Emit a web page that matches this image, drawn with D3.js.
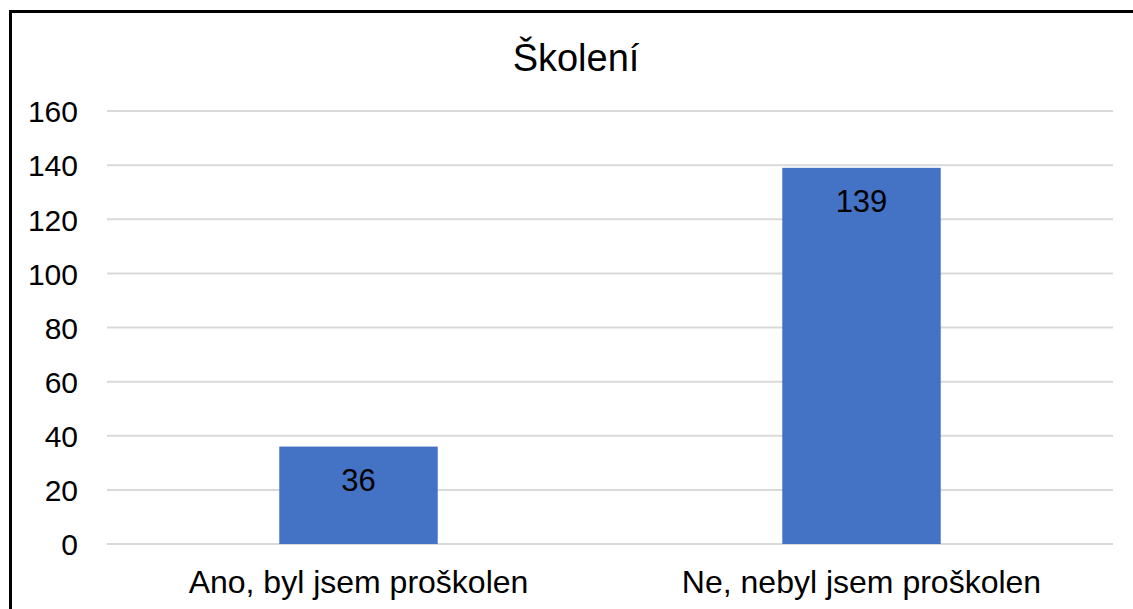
<!DOCTYPE html>
<html>
<head>
<meta charset="utf-8">
<script src="https://cdn.jsdelivr.net/npm/d3@7"></script>
<style>
  body { margin: 0; background: #fff; }
  svg { display: block; font-family: "Liberation Sans", Arial, sans-serif; }
</style>
</head>
<body>
<svg id="chart"></svg>
<script>
var categories = ["Ano, byl jsem proškolen", "Ne, nebyl jsem proškolen"];
var values = [36, 139];
var yTicks = [0, 20, 40, 60, 80, 100, 120, 140, 160];
var title = "Školení";

var width = 1133, height = 609;
var margins = { left: 107, right: 20, top: 111, bottom: 65 };

var svg = d3.select("#chart")
    .attr("width", width)
    .attr("height", height);

// outer frame (cut off at right and bottom)
svg.append("rect")
    .attr("x", 10.5)
    .attr("y", 11.5)
    .attr("width", width + 20)
    .attr("height", height + 20)
    .attr("fill", "none")
    .attr("stroke", "#000")
    .attr("stroke-width", 3);

var xScale = d3.scaleBand()
    .domain(categories)
    .range([margins.left, width - margins.right])
    .padding(0);
var yScale = d3.scaleLinear()
    .domain([0, 160])
    .range([height - margins.bottom, margins.top]);

// title
svg.append("text")
    .attr("x", 576)
    .attr("y", 71)
    .attr("text-anchor", "middle")
    .attr("font-size", 38)
    .attr("fill", "#000")
    .text(title);

// gridlines
svg.append("g")
    .selectAll("line")
    .data(yTicks)
    .enter()
    .append("line")
    .attr("x1", margins.left)
    .attr("x2", width - margins.right)
    .attr("y1", function(d){ return yScale(d); })
    .attr("y2", function(d){ return yScale(d); })
    .attr("stroke", "#d9d9d9")
    .attr("stroke-width", 2);

// y axis
var yAxis = svg.append("g")
    .attr("transform", "translate(" + (margins.left - 29) + ",0)")
    .call(d3.axisLeft(yScale).tickValues(yTicks).tickSize(0).tickPadding(0));
yAxis.select(".domain").remove();
yAxis.selectAll("text")
    .attr("font-size", 30)
    .attr("font-family", "Liberation Sans, Arial, sans-serif")
    .attr("fill", "#000")
    .attr("dy", "0.36em");

// bars
var barWidth = xScale.bandwidth() * 0.315;
var bars = svg.append("g")
    .selectAll("g")
    .data(values)
    .enter()
    .append("g");
bars.append("rect")
    .attr("x", function(d, i){ return xScale(categories[i]) + xScale.bandwidth() / 2 - barWidth / 2; })
    .attr("y", function(d){ return yScale(d); })
    .attr("width", barWidth)
    .attr("height", function(d){ return yScale(0) - yScale(d); })
    .attr("fill", "#4472c4");
bars.append("text")
    .attr("x", function(d, i){ return xScale(categories[i]) + xScale.bandwidth() / 2; })
    .attr("y", function(d){ return yScale(d) + 44; })
    .attr("text-anchor", "middle")
    .attr("font-size", 31)
    .attr("fill", "#000")
    .text(function(d){ return d; });

// x axis labels
var xAxis = svg.append("g")
    .attr("transform", "translate(0," + (yScale(0) + 49) + ")")
    .call(d3.axisBottom(xScale).tickSize(0).tickPadding(0));
xAxis.select(".domain").remove();
xAxis.selectAll("text")
    .attr("font-size", 32)
    .attr("font-family", "Liberation Sans, Arial, sans-serif")
    .attr("fill", "#000")
    .attr("dy", 0);
</script>
</body>
</html>
